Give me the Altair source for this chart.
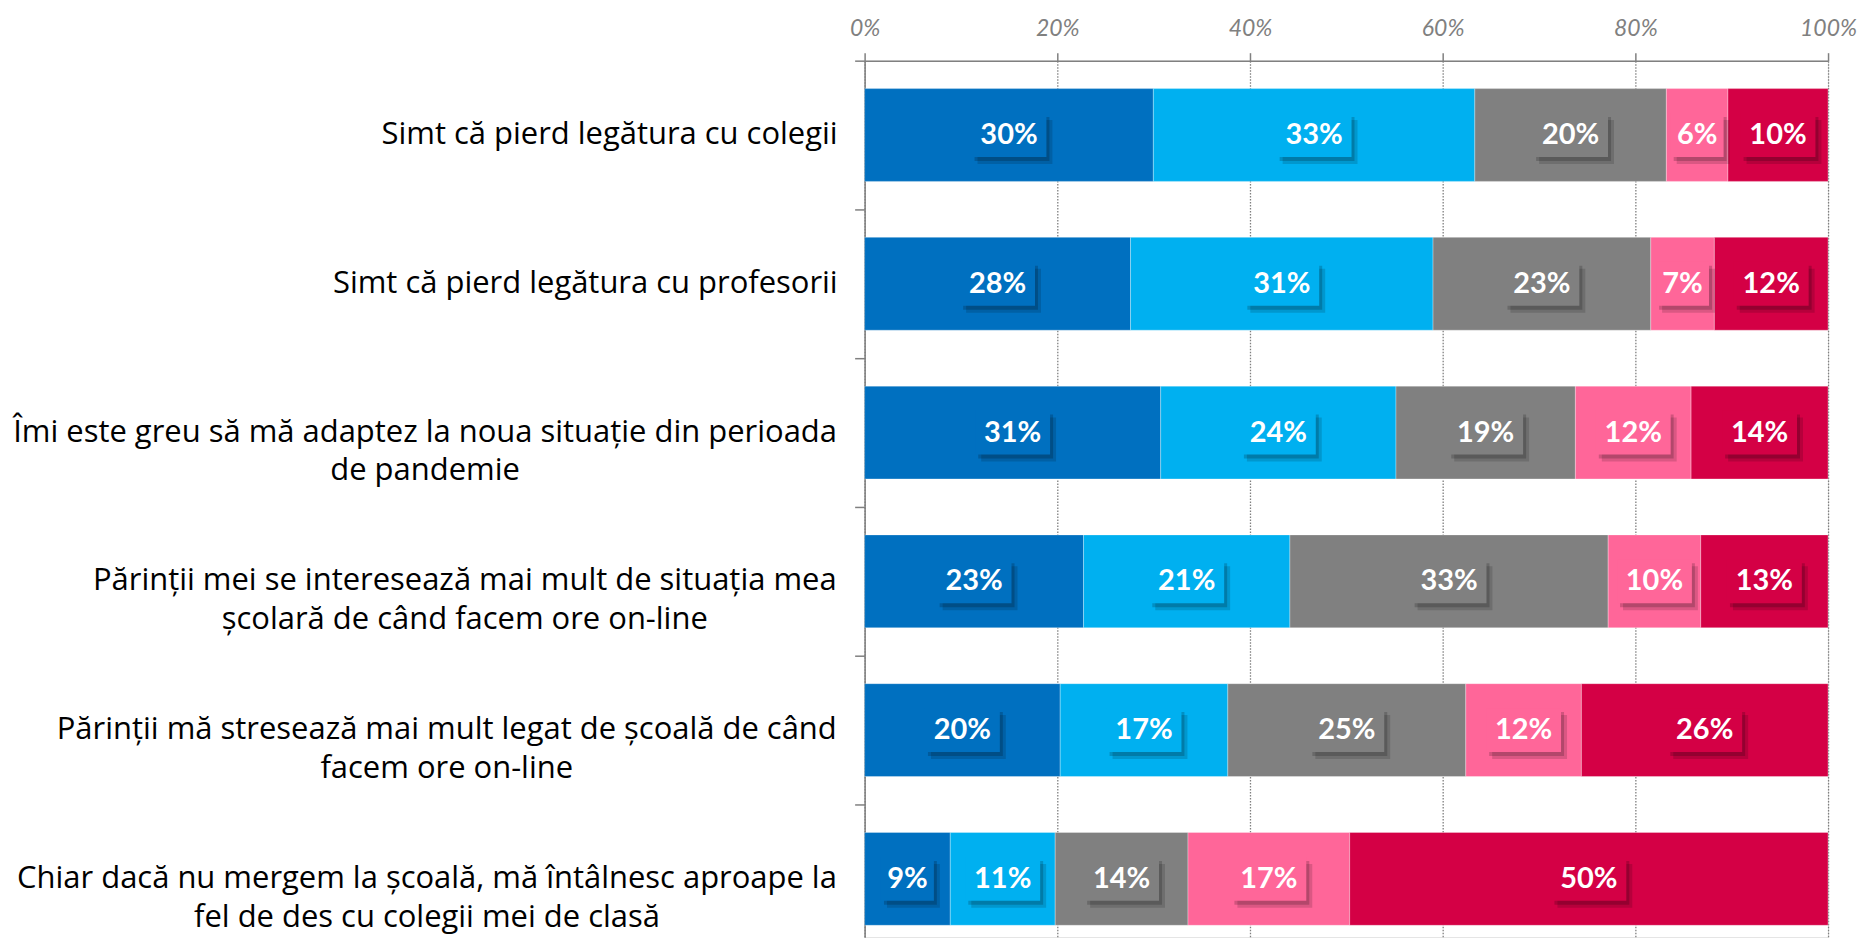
import altair as alt
import pandas as pd

# ---------------- data ----------------
categories = [
    "Simt că pierd legătura cu colegii",
    "Simt că pierd legătura cu profesorii",
    "Îmi este greu să mă adaptez la noua situație din perioada\nde pandemie",
    "Părinții mei se interesează mai mult de situația mea\nșcolară de când facem ore on-line",
    "Părinții mă stresează mai mult legat de școală de când\nfacem ore on-line",
    "Chiar dacă nu mergem la școală, mă întâlnesc aproape la\nfel de des cu colegii mei de clasă",
]
series = ["Acord total", "Mai degrabă acord", "Nici acord, nici dezacord",
          "Mai degrabă dezacord", "Dezacord total"]
colors = ["#0070C0", "#00B0F0", "#808080", "#FF6699", "#D40045"]

s1 = [30.0, 27.6, 30.7, 22.7, 20.3, 8.9]
s2 = [33.4, 31.4, 24.4, 21.4, 17.4, 10.9]
s3 = [19.9, 22.6, 18.6, 33.0, 24.7, 13.8]
s4 = [6.4, 6.6, 12.0, 9.6, 12.0, 16.8]
s5 = [10.4, 11.8, 14.2, 13.2, 25.6, 49.7]

x_ticks = [0, 0.2, 0.4, 0.6, 0.8, 1.0]

# ---------------- layout / style constants ----------------
PLOT_W = 965
PLOT_H = 878
LABEL_RIGHT = -27      # px, right edge of category labels relative to plot
GRAY = "#808080"
LABEL_FONT = "Open Sans"
LABEL_SIZE = 31

# approximate advance widths (em) of the label font, used to centre wrapped labels
_EM = {" ": .26, "a": .556, "b": .613, "c": .48, "d": .613, "e": .561, "f": .336,
       "g": .54, "h": .613, "i": .258, "j": .258, "k": .525, "l": .258, "m": .93,
       "n": .613, "o": .601, "p": .613, "q": .613, "r": .408, "s": .479, "t": .353,
       "u": .613, "v": .501, "w": .778, "x": .524, "y": .5, "z": .468, ",": .248,
       "-": .322, "ă": .556, "â": .556, "î": .258, "ș": .479, "ț": .353,
       "Î": .279, "P": .603, "C": .632, "S": .549}


def text_width(s):
    return sum(_EM.get(ch, 0.56) for ch in s) * LABEL_SIZE


rows = []
for i, c in enumerate(categories):
    for j, vals in enumerate([s1, s2, s3, s4, s5]):
        rows.append({"cat": c, "series": series[j], "idx": j, "value": vals[i]})
df = pd.DataFrame(rows)

lab_rows = []
for c in categories:
    lines = c.split("\n")
    w = max(text_width(l) for l in lines)
    lab_rows.append({"cat": c, "multi": len(lines) > 1,
                     "lx": (LABEL_RIGHT - w / 2) / PLOT_W})
lab = pd.DataFrame(lab_rows)

Y = alt.Y(
    "cat:N", sort=categories, title=None,
    scale=alt.Scale(paddingInner=0.376, paddingOuter=0.134, align=0.7),
    axis=alt.Axis(labels=False, grid=False, domainColor=GRAY, domainWidth=1.5,
                  tickColor=GRAY, tickWidth=1.5, tickSize=10,
                  bandPosition=0, tickOffset=-28),
)
xaxis = alt.Axis(orient="top", values=x_ticks, format=".0%", title=None,
                 labelFont="Lato", labelFontStyle="italic", labelFontSize=23,
                 labelColor=GRAY, labelPadding=12, labelFlush=False,
                 tickColor=GRAY, tickSize=8, tickWidth=1.5,
                 domainColor=GRAY, domainWidth=1.5,
                 grid=True, gridColor=GRAY, gridDash=[1.5, 1.5], gridWidth=1.3)
xscale = alt.Scale(domain=[0, 1], nice=False)
color = alt.Color("series:N", scale=alt.Scale(domain=series, range=colors), legend=None)

base = alt.Chart(df).transform_stack(
    stack="value", groupby=["cat"], as_=["v0", "v1"], offset="normalize",
    sort=[alt.SortField("idx", order="ascending")],
).transform_calculate(
    mid="(datum.v0 + datum.v1) / 2",
    label="format(datum.value, '.0f') + '%'",
).transform_calculate(
    nch="length(datum.label)"
)

bars = base.mark_bar(stroke="white", strokeWidth=0.6, strokeOpacity=0.5).encode(
    x=alt.X("v0:Q", scale=xscale, axis=xaxis),
    x2="v1:Q",
    y=Y,
    color=color,
    order=alt.Order("idx:Q"),
)

layers = [bars]
for n, w in [(2, 53), (3, 75)]:
    h = 44
    path = f"M-1,{-h / w:.4f}H1V{h / w:.4f}H-1Z"
    sub = base.transform_filter(f"datum.nch == {n}")
    for dx, dy, op in [(3, 4, 0.18), (6, 7, 0.14)]:
        layers.append(sub.mark_point(shape=path, size=w * w, filled=True, color="black",
                                     opacity=op, strokeWidth=0, xOffset=dx, yOffset=dy).encode(
            x=alt.X("mid:Q", scale=xscale, axis=xaxis), y=Y))
    layers.append(sub.mark_point(shape=path, size=w * w, filled=True, opacity=1,
                                 strokeWidth=0).encode(
        x=alt.X("mid:Q", scale=xscale, axis=xaxis), y=Y, color=color))

layers.append(base.mark_text(font="Lato", fontWeight="bold", fontSize=29, color="white",
                             align="center", baseline="middle").encode(
    x=alt.X("mid:Q", scale=xscale, axis=xaxis), y=Y, text="label:N"))

cat_single = alt.Chart(lab).transform_filter("!datum.multi").mark_text(
    font=LABEL_FONT, fontSize=LABEL_SIZE, color="#000000", align="right", baseline="middle"
).encode(x=alt.value(LABEL_RIGHT), y=Y, text="cat:N")

cat_multi = alt.Chart(lab).transform_filter("datum.multi").mark_text(
    font=LABEL_FONT, fontSize=LABEL_SIZE, color="#000000", align="center", baseline="middle",
    lineBreak="\n", lineHeight=39
).encode(x=alt.X("lx:Q", scale=xscale, axis=xaxis), y=Y, text="cat:N")

layers += [cat_single, cat_multi]

chart = alt.layer(*layers).properties(
    width=PLOT_W, height=PLOT_H,
    padding={"left": 858, "top": 52, "right": 30, "bottom": 0},
    autosize="none",
).configure_view(stroke=None).configure(background="white")

chart.save("out.html", embed_options={"renderer": "svg", "actions": False})
